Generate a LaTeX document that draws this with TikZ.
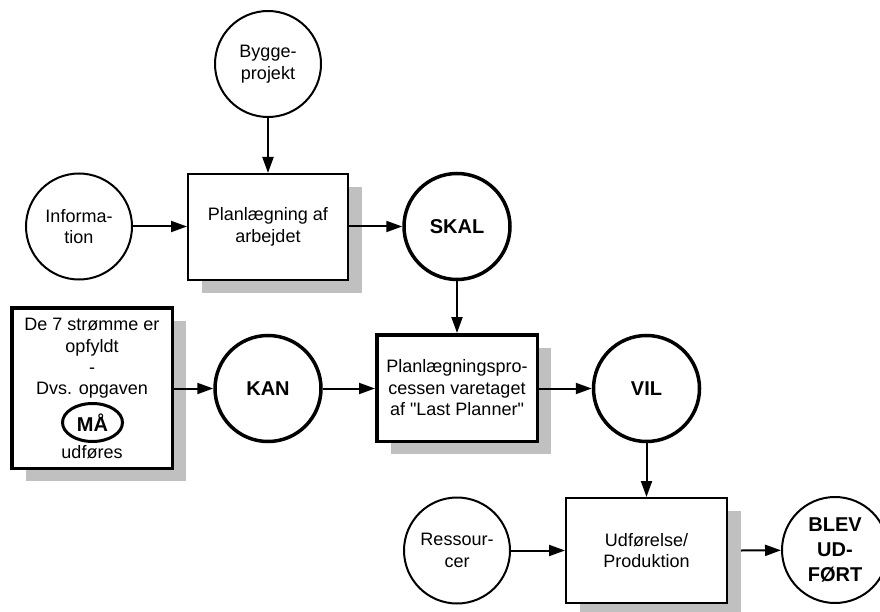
\documentclass[tikz,border=0pt]{standalone}
\usepackage{fontspec}
\setmainfont{Liberation Sans}[Ligatures=TeXOff]
\usetikzlibrary{arrows.meta,shapes.geometric,shadows}
\definecolor{shade}{RGB}{192,192,192}
\begin{document}
\begin{tikzpicture}[x=1pt,y=-1pt,
  every node/.style={font=\fontsize{18pt}{21.5pt}\selectfont, align=center, inner sep=0pt},
  thin line/.style={line width=2pt},
  thick line/.style={line width=3.5pt},
  bold text/.style={font=\fontsize{20pt}{25pt}\selectfont\bfseries},
  roundnode/.style={circle, draw, thin line, fill=white, minimum size=106pt},
  keynode/.style={circle, draw, thick line, fill=white, minimum size=106pt, bold text},
  boxshadow/.style={drop shadow={shadow xshift=14pt, shadow yshift=-13pt, fill=shade, opacity=1}},
  taskbox/.style={rectangle, draw, thin line, fill=white, boxshadow},
  keybox/.style={rectangle, draw, thick line, fill=white, boxshadow},
  flow/.style={thin line, -{Triangle[length=16pt,width=11pt]}}
]
\useasboundingbox (0,0) rectangle (880,612);

% input circles
\node[roundnode] (bygge) at (268,64) {Bygge-\\projekt};
\node[roundnode] (info) at (79,226.5) {Informa-\\tion};
\node[roundnode] (res) at (457,550.5) {Ressour-\\cer};

% process boxes
\node[taskbox, minimum width=160pt, minimum height=106pt] (plan) at (268,227) {Planlægning af\\arbejdet};
\node[keybox, minimum width=160.5pt, minimum height=106.5pt] (lp) at (457,388) {Planlægningspro-\\cessen varetaget\\af "Last Planner"};
\node[taskbox, minimum width=161pt, minimum height=105pt] (udf) at (646.5,550.5) {Udførelse/\\Produktion};

% left condition box with its own lines of text
\node[keybox, minimum width=160.5pt, minimum height=160.5pt] (cond) at (92,388) {};
\node[anchor=base] (l1) at (92,330) {De 7 strømme er};
\node[anchor=base] (l2) at (92,352) {opfyldt};
\node[anchor=base] (l3) at (92,373) {-};
\node[anchor=base] (l4) at (92,394) {Dvs. opgaven};
\node[ellipse, draw, line width=3pt, minimum width=60pt, minimum height=38pt, bold text] (maa) at (92.5,422.5) {MÅ};
\node[anchor=base] (l5) at (92,458) {udføres};

% state circles
\node[keynode] (skal) at (457,226.5) {SKAL};
\node[keynode] (kan) at (268,388.5) {KAN};
\node[keynode] (vil) at (646.5,388.5) {VIL};
\node[roundnode, bold text] (blev) at (835,550) {BLEV\\UD-\\FØRT};

% flow arrows
\draw[flow] (bygge) -- (plan);
\draw[flow] (info) -- (plan.west |- info.east);
\draw[flow] (plan.east |- skal.west) -- (skal);
\draw[flow] (skal) -- (lp.north -| skal.south);
\draw[flow] (cond.east |- kan.west) -- (kan);
\draw[flow] (kan) -- (lp.west |- kan.east);
\draw[flow] (lp.east |- vil.west) -- (vil);
\draw[flow] (vil) -- (udf.north -| vil.south);
\draw[flow] (res) -- (udf.west |- res.east);
\coordinate (udfout) at ([xshift=13pt]udf.east);
\draw[flow] (udfout) -- (blev);
\end{tikzpicture}
\end{document}
